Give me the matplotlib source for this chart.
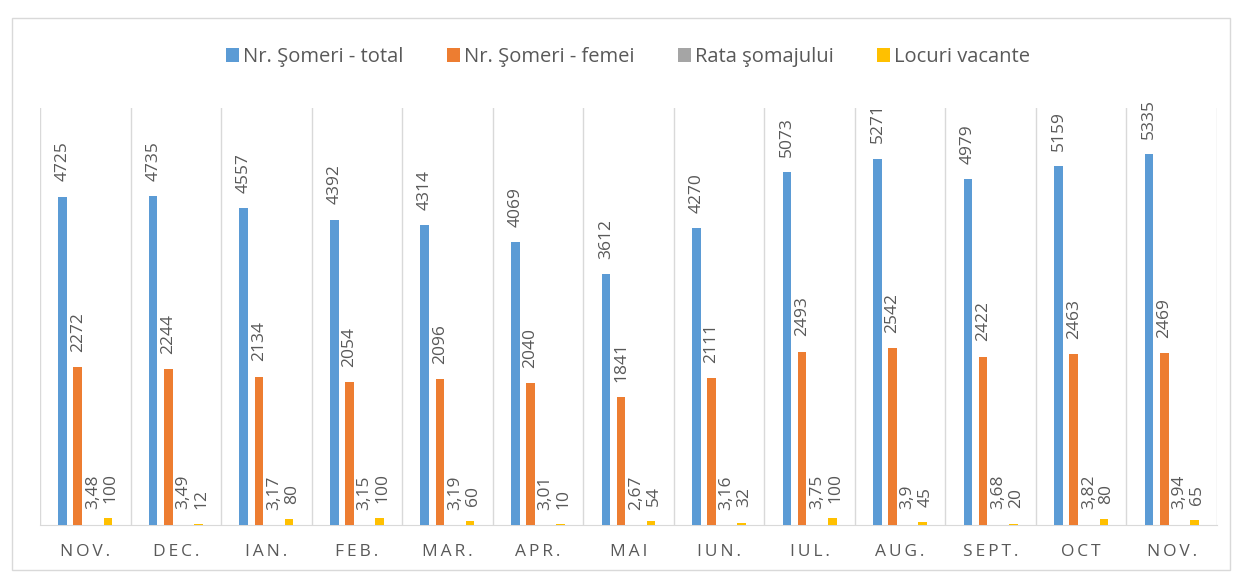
import matplotlib
matplotlib.use("Agg")
import matplotlib.pyplot as plt
from matplotlib.patches import Patch, Rectangle

plt.rcParams['font.family'] = ['Open Sans', 'DejaVu Sans']

categories = ["NOV.", "DEC.", "IAN.", "FEB.", "MAR.", "APR.", "MAI", "IUN.", "IUL.", "AUG.", "SEPT.", "OCT", "NOV."]
someri_total = [4725, 4735, 4557, 4392, 4314, 4069, 3612, 4270, 5073, 5271, 4979, 5159, 5335]
someri_femei = [2272, 2244, 2134, 2054, 2096, 2040, 1841, 2111, 2493, 2542, 2422, 2463, 2469]
rata_somaj = [3.48, 3.49, 3.17, 3.15, 3.19, 3.01, 2.67, 3.16, 3.75, 3.9, 3.68, 3.82, 3.94]
locuri_vacante = [100, 12, 80, 100, 60, 10, 54, 32, 100, 45, 20, 80, 65]
series_names = ["Nr. Şomeri - total", "Nr. Şomeri - femei", "Rata şomajului", "Locuri vacante"]

colors = ["#5B9BD5", "#ED7D31", "#A5A5A5", "#FFC000"]
text_color = "#595959"

W, H = 1237, 577
fig = plt.figure(figsize=(W / 100, H / 100), dpi=100)
fig.patch.set_facecolor("white")

# outer chart frame
fig.patches.append(Rectangle((12 / W, 1 - 570 / H), (1230 - 12) / W, (570 - 18) / H,
                             transform=fig.transFigure, fill=False,
                             edgecolor="#d9d9d9", linewidth=1.0))

ax = fig.add_axes([40 / W, 1 - 525 / H, (1217 - 40) / W, (525 - 108) / H])
ax.set_xlim(-0.5, len(categories) - 0.5)
ax.set_ylim(0, 6000)

x = list(range(len(categories)))
offsets = [-0.25, -0.083, 0.083, 0.25]
width = 0.095
all_series = [someri_total, someri_femei, rata_somaj, locuri_vacante]

def fmt(v):
    if isinstance(v, float):
        return ("%g" % v).replace(".", ",")
    return str(v)

for s, (vals, off, c) in enumerate(zip(all_series, offsets, colors)):
    xs = [i + off for i in x]
    ax.bar(xs, vals, width=width, color=c, zorder=3)
    for xi, v in zip(xs, vals):
        dx = 0 if s == 2 else (2.0 if s == 3 else 0)
        ax.annotate(fmt(v), (xi, v), xytext=(dx, 11), textcoords="offset points",
                    rotation=90, ha="center", va="bottom", fontsize=12.5,
                    color=text_color, zorder=4)

# category separators
for k in range(len(categories) + 1):
    ax.axvline(k - 0.5, color="#d9d9d9", linewidth=1.0, zorder=1)

for sp in ["top", "right", "left"]:
    ax.spines[sp].set_visible(False)
ax.spines["bottom"].set_color("#d9d9d9")
ax.set_yticks([])
ax.set_xticks(x)
spaced = ["\u2009".join(list(c)) for c in categories]
ax.set_xticklabels(spaced, fontsize=12.5, color=text_color)
ax.tick_params(axis="x", length=0, pad=14)

handles = [Patch(facecolor=c, edgecolor="none") for c in colors]
fig.legend(handles, series_names, loc="center", bbox_to_anchor=(628 / W, 1 - 57 / H),
           ncol=4, frameon=False, fontsize=14.5, labelcolor=text_color,
           handlelength=0.65, handleheight=0.65, handletextpad=0.2, columnspacing=2.15)

fig.savefig("out.png", dpi=100, facecolor="white")
